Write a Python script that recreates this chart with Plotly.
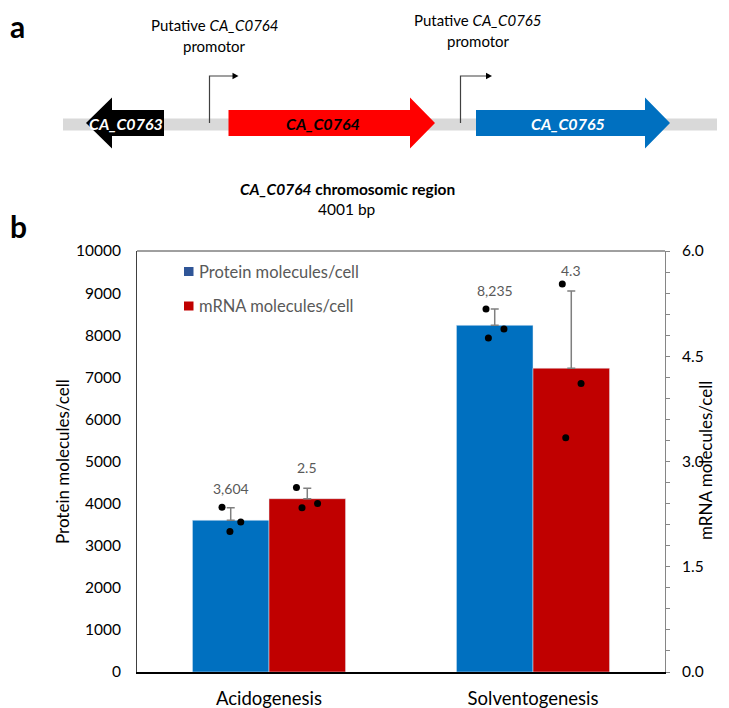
import plotly.graph_objects as go

# ---------------- data ----------------
categories = ["Acidogenesis", "Solventogenesis"]
protein_mean = [3604, 8235]
protein_err = [300, 385]
mrna_mean = [2.47, 4.33]
mrna_err = [0.15, 1.1]
protein_reps = [[3912, 3564, 3340], [8620, 8150, 7935]]
mrna_reps = [[2.63, 2.34, 2.40], [5.53, 4.11, 3.34]]
protein_jitter = [[-0.033, 0.038, -0.003], [-0.033, 0.035, -0.024]]
mrna_jitter = [[-0.041, -0.020, 0.039], [-0.034, 0.037, -0.021]]
legend_names = ["Protein molecules/cell", "mRNA molecules/cell"]

# ---------------- style ----------------
FONT = "Lato"
BLUE = "#0070C0"
RED = "#C00000"
GREY_TXT = "#595959"
W = 0.29
# page has an 8px body margin: figure is drawn from (8, 8)
FW, FH = 721, 700
L, R, T, B = 129, 64, 243, 36
PW, PH = FW - L - R, FH - T - B


def px2x(px):
    # px: horizontal pixel in the browser window
    return (px - 8 - L) / PW


def py2y(py):
    return (FH - B - (py - 8)) / PH


def path(pts):
    return "M " + " L ".join(f"{px2x(x):.5f},{py2y(y):.5f}" for x, y in pts) + " Z"


fig = go.Figure()
idx = list(range(len(categories)))

fig.add_trace(go.Bar(
    x=idx, y=protein_mean, width=W, offset=-W, marker_color=BLUE,
    error_y=dict(type="data", array=protein_err, arrayminus=[0] * len(idx),
                 symmetric=False, color="#7F7F7F", thickness=1.5, width=4),
    showlegend=False, yaxis="y"))
fig.add_trace(go.Bar(
    x=idx, y=mrna_mean, width=W, offset=0, marker_color=RED,
    error_y=dict(type="data", array=mrna_err, arrayminus=[0] * len(idx),
                 symmetric=False, color="#7F7F7F", thickness=1.5, width=4),
    showlegend=False, yaxis="y2"))

px_, py_ = [], []
for i in idx:
    for v, j in zip(protein_reps[i], protein_jitter[i]):
        px_.append(i - W / 2 + j)
        py_.append(v)
fig.add_trace(go.Scatter(x=px_, y=py_, mode="markers", yaxis="y",
                         marker=dict(color="black", size=7), showlegend=False))
mx_, my_ = [], []
for i in idx:
    for v, j in zip(mrna_reps[i], mrna_jitter[i]):
        mx_.append(i + W / 2 + j)
        my_.append(v)
fig.add_trace(go.Scatter(x=mx_, y=my_, mode="markers", yaxis="y2",
                         marker=dict(color="black", size=7), showlegend=False))

ann = []
for i in idx:
    ann.append(dict(x=i - W / 2, y=protein_mean[i] + protein_err[i], xref="x", yref="y",
                    text=f"{protein_mean[i]:,.0f}", showarrow=False, yshift=19,
                    font=dict(family=FONT, size=14, color=GREY_TXT)))
    ann.append(dict(x=i + W / 2, y=mrna_mean[i] + mrna_err[i], xref="x", yref="y2",
                    text=f"{mrna_mean[i]:.1f}", showarrow=False, yshift=21,
                    font=dict(family=FONT, size=14, color=GREY_TXT)))

shapes = []
# manual legend
for k, (name, col, cy) in enumerate(zip(legend_names, ["#2F5597", RED], [271.5, 306])):
    shapes.append(dict(type="rect", xref="paper", yref="paper",
                       x0=px2x(184), x1=px2x(193.5), y0=py2y(cy - 4.5), y1=py2y(cy + 4.5),
                       fillcolor=col, line=dict(width=0)))
    ann.append(dict(x=px2x(197), y=py2y(cy), xref="paper", yref="paper", xanchor="left",
                    yanchor="middle", text=name, showarrow=False,
                    font=dict(family=FONT, size=16.5, color=GREY_TXT)))

# ---------------- panel a: gene map ----------------
shapes.append(dict(type="rect", xref="paper", yref="paper", x0=px2x(63), x1=px2x(717),
                   y0=py2y(118.5), y1=py2y(130.5), fillcolor="#D9D9D9", line=dict(width=0)))
shapes.append(dict(type="path", xref="paper", yref="paper",
                   path=path([(86, 123), (112, 97.5), (112, 110), (164, 110), (164, 136),
                              (112, 136), (112, 148.5)]),
                   fillcolor="black", line=dict(width=0)))
shapes.append(dict(type="path", xref="paper", yref="paper",
                   path=path([(228.5, 110), (410, 110), (410, 97.5), (435, 123), (410, 148.5),
                              (410, 136), (228.5, 136)]),
                   fillcolor="#FF0000", line=dict(width=0)))
shapes.append(dict(type="path", xref="paper", yref="paper",
                   path=path([(476, 110), (645, 110), (645, 97.5), (670, 123), (645, 148.5),
                              (645, 136), (476, 136)]),
                   fillcolor=BLUE, line=dict(width=0)))
for x0, tip in [(209.5, 238.5), (460.5, 492)]:
    shapes.append(dict(type="path", xref="paper", yref="paper",
                       path=f"M {px2x(x0)},{py2y(123)} L {px2x(x0)},{py2y(76)} L {px2x(tip - 5)},{py2y(76)}",
                       line=dict(color="#404040", width=1.2)))
    shapes.append(dict(type="path", xref="paper", yref="paper",
                       path=path([(tip - 6, 72.8), (tip, 76), (tip - 6, 79.2)]),
                       fillcolor="black", line=dict(width=0)))


def txt(x, y, text, size=15, color="black", anchor="center", angle=0, yanchor="middle"):
    ann.append(dict(x=px2x(x), y=py2y(y), xref="paper", yref="paper", xanchor=anchor,
                    yanchor=yanchor, text=text, showarrow=False, textangle=angle,
                    font=dict(family=FONT, size=size, color=color)))


txt(126, 123, "<b><i>CA_C0763</i></b>", 16, "white")
txt(323, 123, "<b><i>CA_C0764</i></b>", 16, "black")
txt(568, 123, "<b><i>CA_C0765</i></b>", 16, "white")
txt(214.5, 25, "Putative <i>CA_C0764</i>", 15)
txt(214.5, 46, "promotor", 15)
txt(478, 20, "Putative <i>CA_C0765</i>", 15)
txt(478, 41, "promotor", 15)
txt(347, 189, "<b><i>CA_C0764</i> chromosomic region</b>", 15.5)
txt(347, 209, "4001 bp", 15.5)
txt(8, 6, "<b>a</b>", 30, anchor="left", yanchor="top")
txt(8, 226, "<b>b</b>", 30, anchor="left")
# axis titles
txt(62, 462, "Protein molecules/cell", 17, angle=-90)
txt(705, 461, "mRNA molecules/cell", 17, angle=-90)

fig.update_layout(
    width=FW, height=FH, margin=dict(l=L, r=R, t=T, b=B, pad=0, autoexpand=False),
    paper_bgcolor="white", plot_bgcolor="white", barmode="overlay",
    font=dict(family=FONT, size=15, color="black"),
    shapes=shapes, annotations=ann, showlegend=False,
    xaxis=dict(range=[-0.5, 1.5], tickvals=idx, ticktext=categories, showgrid=False,
               zeroline=False, showline=True, linecolor="black", linewidth=1.5,
               mirror=False, ticks="", tickfont=dict(size=18.5, family=FONT),
               ticklabelstandoff=9, automargin=False),
    yaxis=dict(range=[0, 10000], dtick=1000, tickformat="d", showgrid=False, zeroline=False,
               showline=True, linecolor="#404040", linewidth=1, ticks="",
               tickfont=dict(size=15.5, family=FONT), ticklabelstandoff=12, automargin=False),
    yaxis2=dict(range=[0, 6], dtick=1.5, tickformat=".1f", overlaying="y", side="right",
                showgrid=False, zeroline=False, showline=True, linecolor="#868686",
                linewidth=1, ticks="outside", ticklen=4, tickcolor="#868686",
                minor=dict(dtick=0.3, ticks="outside", ticklen=4, tickcolor="#868686"),
                tickfont=dict(size=15.5, family=FONT), ticklabelstandoff=9, automargin=False),
)
# top border line
fig.add_shape(type="line", xref="paper", yref="paper", x0=0, x1=1, y0=1, y1=1,
              line=dict(color="#404040", width=1))

fig.write_html("out.html")
